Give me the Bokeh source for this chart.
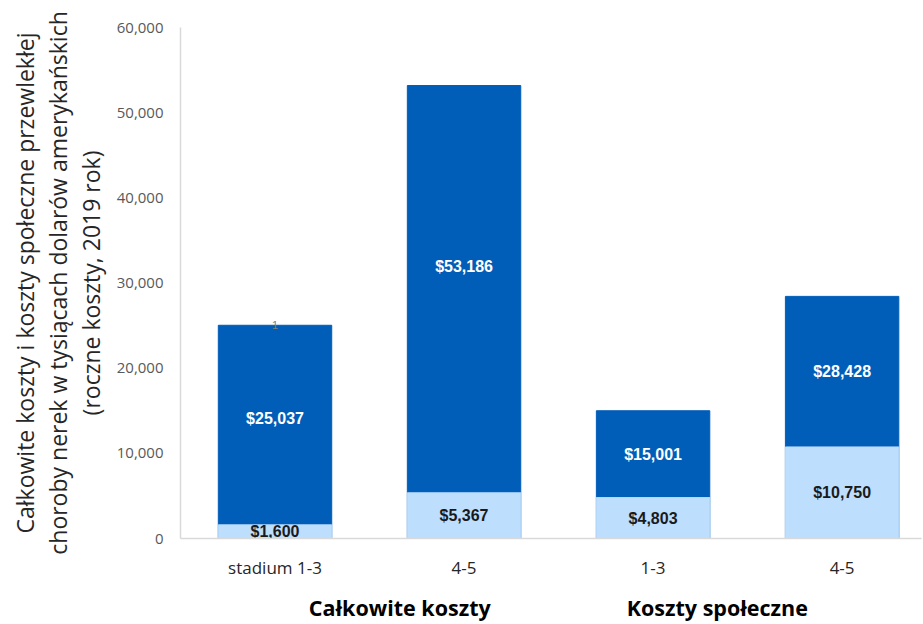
import numpy as np
from bokeh.plotting import figure
from bokeh.models import (Range1d, FixedTicker, NumeralTickFormatter, LinearAxis,
                          ColumnDataSource)
from bokeh.core.properties import value
from bokeh.embed import file_html
from bokeh.resources import INLINE

# ---- data ----
categories = ["stadium 1-3", "4-5", "1-3", "4-5"]
groups = ["Całkowite koszty", "Całkowite koszty", "Koszty społeczne", "Koszty społeczne"]
total_costs = [25037, 53186, 15001, 28428]
light_costs = [1600, 5367, 4803, 10750]
group_names = ["Całkowite koszty", "Koszty społeczne"]
y_ticks = [0, 10000, 20000, 30000, 40000, 50000, 60000]
footnote = "1"

DARK = "#005EB8"
LIGHT = "#BDDEFD"

x = np.arange(len(categories)) + 0.5
total = np.array(total_costs, dtype=float)
light = np.array(light_costs, dtype=float)
is_total_group = np.array([g == group_names[0] for g in groups])
dark_label_y = np.where(is_total_group, light + total / 2, (light + total) / 2)

src = ColumnDataSource(dict(
    x=x, total=total, light=light, dark_y=dark_label_y, light_y=light / 2,
    dark_txt=["${:,.0f}".format(v) for v in total],
    light_txt=["${:,.0f}".format(v) for v in light],
))

p = figure(width=923, height=624, output_backend="svg", toolbar_location=None,
           x_range=Range1d(0, 3.92), y_range=Range1d(0, 60000),
           min_border_left=180, min_border_right=2, min_border_top=27,
           min_border_bottom=86, outline_line_color=None,
           x_axis_location=None, y_axis_location=None)
p.xgrid.visible = False
p.ygrid.visible = False

p.vbar(x="x", top="total", width=0.6, source=src, fill_color=DARK,
       line_color=DARK)
p.vbar(x="x", top="light", width=0.6, source=src, fill_color=LIGHT,
       line_color=LIGHT)

p.text(x="x", y="dark_y", text="dark_txt", source=src, text_color="white",
       text_font=value("Liberation Sans"), text_font_style="bold",
       text_font_size="16px", text_align="center", text_baseline="middle")
p.text(x="x", y="light_y", text="light_txt", source=src, text_color="#1a1a1a",
       text_font=value("Liberation Sans"), text_font_style="bold",
       text_font_size="16px", text_align="center", text_baseline="middle")
p.text(x=[x[0]], y=[total[0]], text=[footnote], text_color="#808080",
       text_font=value("Liberation Sans"), text_font_size="11px",
       text_align="center", text_baseline="middle")

# y axis
yax = LinearAxis(ticker=FixedTicker(ticks=y_ticks),
                 formatter=NumeralTickFormatter(format="0,0"))
yax.axis_line_color = "#D9D9D9"
yax.axis_line_width = 1.5
yax.major_tick_line_color = None
yax.minor_tick_line_color = None
yax.major_tick_out = 0
yax.major_tick_in = 0
yax.minor_tick_out = 0
yax.major_label_text_color = "#595959"
yax.major_label_text_font = "Open Sans"
yax.major_label_text_font_size = "15px"
yax.major_label_standoff = 17
yax.axis_label = ("Całkowite koszty i koszty społeczne przewlekłej\n"
                  "choroby nerek w tysiącach dolarów amerykańskich\n"
                  "(roczne koszty, 2019 rok)")
yax.axis_label_text_font = "Open Sans"
yax.axis_label_text_font_style = "normal"
yax.axis_label_text_font_size = "23px"
yax.axis_label_text_line_height = 1.02
yax.axis_label_text_color = "#262626"
yax.axis_label_standoff = 7
p.add_layout(yax, "left")

# x axis (categories)
xax = LinearAxis(ticker=FixedTicker(ticks=list(x)),
                 major_label_overrides={float(v): c for v, c in zip(x, categories)})
xax.axis_line_color = "#D9D9D9"
xax.axis_line_width = 1.5
xax.major_tick_line_color = None
xax.minor_tick_line_color = None
xax.major_tick_out = 0
xax.major_tick_in = 0
xax.minor_tick_out = 0
xax.major_label_text_color = "#262626"
xax.major_label_text_font = "Open Sans"
xax.major_label_text_font_size = "17px"
xax.major_label_standoff = 17
p.add_layout(xax, "below")

# group axis
group_pos = [1.16, 2.84]
gax = LinearAxis(ticker=FixedTicker(ticks=group_pos),
                 major_label_overrides={v: g for v, g in zip(group_pos, group_names)})
gax.axis_line_color = None
gax.major_tick_line_color = None
gax.minor_tick_line_color = None
gax.major_tick_out = 0
gax.major_tick_in = 0
gax.minor_tick_out = 0
gax.major_label_text_color = "#000000"
gax.major_label_text_font = "Open Sans"
gax.major_label_text_font_style = "bold"
gax.major_label_text_font_size = "21.5px"
gax.major_label_standoff = 11
p.add_layout(gax, "below")

open("out.html", "w").write(file_html(p, INLINE))
